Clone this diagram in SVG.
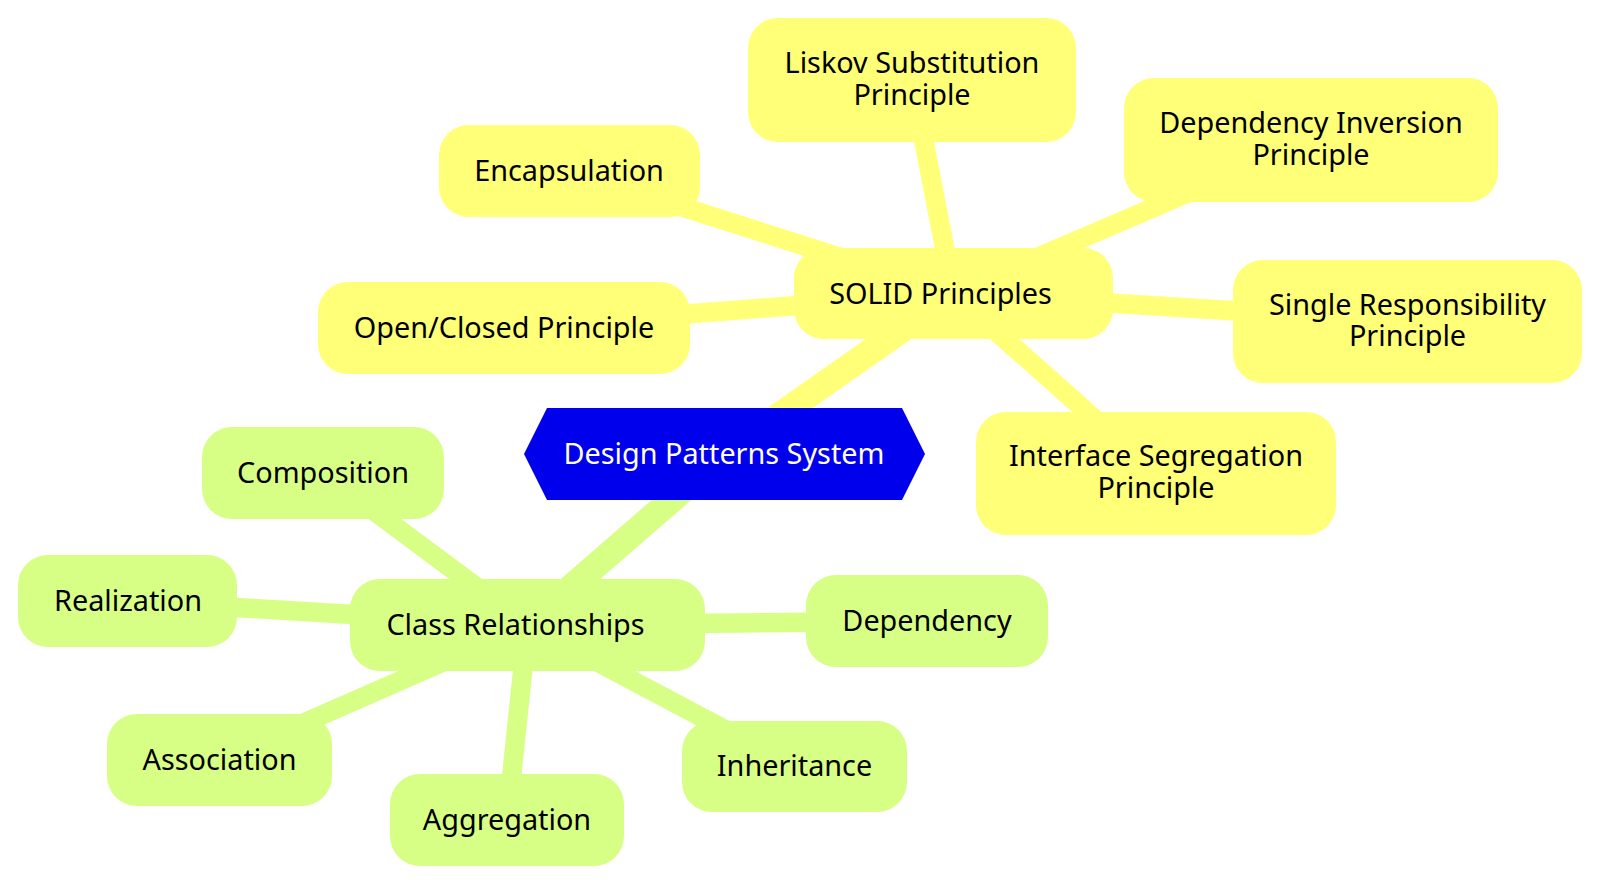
<svg xmlns="http://www.w3.org/2000/svg" width="1600" height="884" viewBox="0 0 1600 884">
<style>
.bg{fill:#ffffff}
.t{font-family:"Noto Sans","Open Sans","Liberation Sans",sans-serif;font-size:28.8px;fill:#000000;text-anchor:middle}
.troot{font-family:"Noto Sans","Open Sans","Liberation Sans",sans-serif;font-size:28.8px;fill:#ffffff;text-anchor:middle}
.y{fill:#ffff78}
.g{fill:#d7ff86}
.ey{stroke:#ffff78;fill:none}
.eg{stroke:#d7ff86;fill:none}
.w0{stroke-width:26}
.w1{stroke-width:19.5}
.root{fill:#0000ec}
</style>
<rect class="bg" x="0" y="0" width="1600" height="884"/>
<g id="connectors">
  <line class="ey w0" x1="724.5" y1="454" x2="953.5" y2="293.5"/>
  <line class="eg w0" x1="724.5" y1="454" x2="527.5" y2="625"/>
  <line class="ey w1" x1="953.5" y1="293.5" x2="569.5" y2="171"/>
  <line class="ey w1" x1="953.5" y1="293.5" x2="912" y2="80"/>
  <line class="ey w1" x1="953.5" y1="293.5" x2="1311" y2="140"/>
  <line class="ey w1" x1="953.5" y1="293.5" x2="1407.5" y2="321.5"/>
  <line class="ey w1" x1="953.5" y1="293.5" x2="1156" y2="473.5"/>
  <line class="ey w1" x1="953.5" y1="293.5" x2="504" y2="328"/>
  <line class="eg w1" x1="527.5" y1="625" x2="323" y2="473"/>
  <line class="eg w1" x1="527.5" y1="625" x2="127.5" y2="601"/>
  <line class="eg w1" x1="527.5" y1="625" x2="219.5" y2="760"/>
  <line class="eg w1" x1="527.5" y1="625" x2="507" y2="820"/>
  <line class="eg w1" x1="527.5" y1="625" x2="794.5" y2="766.5"/>
  <line class="eg w1" x1="527.5" y1="625" x2="927" y2="621"/>
</g>
<g id="node-root">
  <polygon class="root" points="524,454 547,408 902,408 925,454 902,500 547,500"/>
  <text class="troot" x="724" y="464">Design Patterns System</text>
</g>
<g id="node-solid">
  <rect class="y" x="794" y="248" width="319" height="91" rx="30"/>
  <text class="t" x="940.5" y="303.5">SOLID Principles</text>
</g>
<g id="node-encapsulation">
  <rect class="y" x="439" y="125" width="261" height="92" rx="30"/>
  <text class="t" x="569" y="181">Encapsulation</text>
</g>
<g id="node-liskov">
  <rect class="y" x="748" y="18" width="328" height="124" rx="30"/>
  <text class="t" x="912" y="73"><tspan x="912" y="73">Liskov Substitution</tspan><tspan x="912" y="105">Principle</tspan></text>
</g>
<g id="node-dip">
  <rect class="y" x="1124" y="78" width="374" height="124" rx="30"/>
  <text class="t" x="1311" y="133"><tspan x="1311" y="133">Dependency Inversion</tspan><tspan x="1311" y="165">Principle</tspan></text>
</g>
<g id="node-srp">
  <rect class="y" x="1233" y="260" width="349" height="123" rx="30"/>
  <text class="t" x="1407.5" y="314.5"><tspan x="1407.5" y="314.5">Single Responsibility</tspan><tspan x="1407.5" y="346">Principle</tspan></text>
</g>
<g id="node-isp">
  <rect class="y" x="976" y="412" width="360" height="123" rx="30"/>
  <text class="t" x="1156" y="466"><tspan x="1156" y="466">Interface Segregation</tspan><tspan x="1156" y="498">Principle</tspan></text>
</g>
<g id="node-ocp">
  <rect class="y" x="318" y="282" width="372" height="92" rx="30"/>
  <text class="t" x="504" y="338">Open/Closed Principle</text>
</g>
<g id="node-class">
  <rect class="g" x="350" y="579" width="355" height="92" rx="30"/>
  <text class="t" x="515.5" y="635">Class Relationships</text>
</g>
<g id="node-composition">
  <rect class="g" x="202" y="427" width="242" height="92" rx="30"/>
  <text class="t" x="323" y="483">Composition</text>
</g>
<g id="node-realization">
  <rect class="g" x="18" y="555" width="219" height="92" rx="30"/>
  <text class="t" x="128" y="611">Realization</text>
</g>
<g id="node-association">
  <rect class="g" x="107" y="714" width="225" height="92" rx="30"/>
  <text class="t" x="219.5" y="770">Association</text>
</g>
<g id="node-aggregation">
  <rect class="g" x="390" y="774" width="234" height="92" rx="30"/>
  <text class="t" x="507" y="830">Aggregation</text>
</g>
<g id="node-inheritance">
  <rect class="g" x="682" y="721" width="225" height="91" rx="30"/>
  <text class="t" x="794.5" y="776">Inheritance</text>
</g>
<g id="node-dependency">
  <rect class="g" x="806" y="575" width="242" height="92" rx="30"/>
  <text class="t" x="927" y="631">Dependency</text>
</g>
</svg>
